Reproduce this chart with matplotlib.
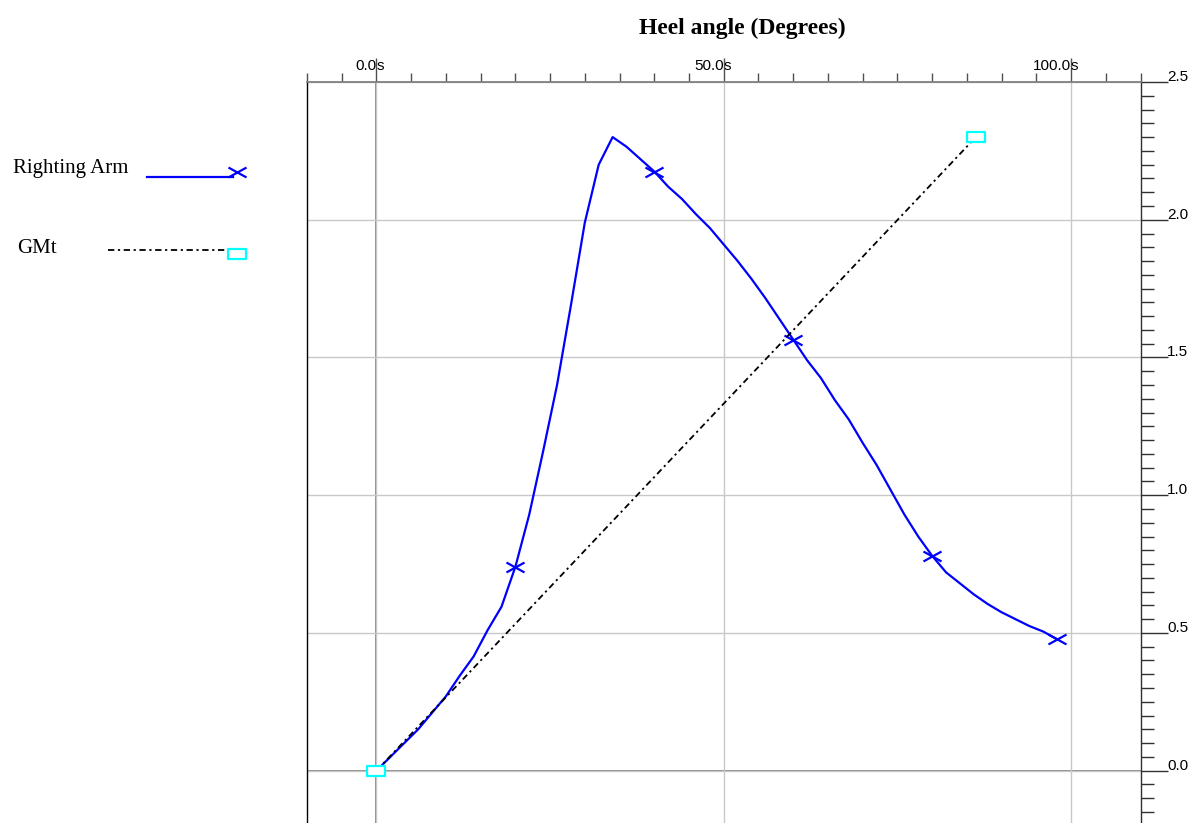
import matplotlib
matplotlib.use('Agg')
import matplotlib.pyplot as plt
from matplotlib.path import Path
import numpy as np

# ---- data ----
angles = [0, 2, 4, 6, 8, 10, 12, 14, 16, 18, 20, 22, 24, 26, 28, 30, 32, 34,
          36, 38, 40, 42, 44, 46, 48, 50, 52, 54, 56, 58, 60, 62, 64, 66, 68,
          70, 72, 74, 76, 78, 80, 82, 84, 86, 88, 90, 92, 94, 96, 98]
righting_arm = [0.0, 0.05, 0.10, 0.15, 0.21, 0.27, 0.345, 0.415, 0.51, 0.595,
                0.74, 0.93, 1.16, 1.40, 1.69, 1.99, 2.20, 2.30, 2.265, 2.22,
                2.175, 2.12, 2.075, 2.02, 1.97, 1.91, 1.85, 1.785, 1.715, 1.64,
                1.565, 1.49, 1.425, 1.345, 1.275, 1.19, 1.11, 1.02, 0.93, 0.85,
                0.78, 0.72, 0.68, 0.64, 0.605, 0.575, 0.55, 0.525, 0.505, 0.477]
marker_angles = [20, 40, 60, 80, 98]
gmt_angles = [0, 86.3]
gmt_values = [0.0, 2.30]

x_major = [0, 50, 100]
x_labels = ['0.0', '50.0', '100.0']
y_major = [0.0, 0.5, 1.0, 1.5, 2.0, 2.5]
y_labels = ['0.0', '0.5', '1.0', '1.5', '2.0', '2.5']

title = 'Heel angle (Degrees)'
series_names = ['Righting Arm', 'GMt']

SANS = ['Liberation Sans', 'Arimo', 'DejaVu Sans']
SERIF = ['Liberation Serif', 'DejaVu Serif']

# ---- markers ----
xmark = Path([(-1, -0.55), (1, 0.55), (-1, 0.55), (1, -0.55)],
             [Path.MOVETO, Path.LINETO, Path.MOVETO, Path.LINETO])
rmark = Path([(-1, -0.5), (1, -0.5), (1, 0.5), (-1, 0.5), (-1, -0.5)],
             [Path.MOVETO, Path.LINETO, Path.LINETO, Path.LINETO, Path.CLOSEPOLY])

W, H = 1193, 823
fig = plt.figure(figsize=(W / 100, H / 100), dpi=100)
ax = fig.add_axes([307 / W, 0, (1140.5 - 307) / W, (H - 82) / H])
ax.set_xlim(-10, 110)
ax.set_ylim(-0.19, 2.5)

ax.spines['bottom'].set_visible(False)
ax.spines['left'].set_color('black')
ax.spines['left'].set_linewidth(1.0)
ax.spines['top'].set_color('#808080')
ax.spines['top'].set_linewidth(1.3)
ax.spines['right'].set_color('#303030')
ax.spines['right'].set_linewidth(1.0)

ax.xaxis.tick_top()
ax.set_xticks(x_major)
ax.set_xticks(np.arange(-10, 111, 5), minor=True)
ax.tick_params(axis='x', which='both', top=True, bottom=False,
               labeltop=False, labelbottom=False, direction='out',
               color='#505050', width=1.0)
ax.tick_params(axis='x', which='major', length=17.3)
ax.tick_params(axis='x', which='minor', length=6.5)

ax.yaxis.tick_right()
ax.set_yticks(y_major)
ax.set_yticks(np.arange(-0.15, 2.5001, 0.05), minor=True)
ax.tick_params(axis='y', which='both', right=True, left=False,
               labelright=False, labelleft=False, direction='out',
               color='#303030', width=1.0)
ax.tick_params(axis='y', which='major', length=19.2)
ax.tick_params(axis='y', which='minor', length=9.4)

ax.grid(True, which='major', color='#c8c8c8', linewidth=1.0)
ax.axhline(0, color='#808080', linewidth=1.3, zorder=1.5)
ax.axvline(0, color='#808080', linewidth=1.3, zorder=1.5)

for x, lbl in zip(x_major, x_labels):
    ax.annotate(lbl, xy=(x, 1), xycoords=('data', 'axes fraction'),
                xytext=(0, 8.6), textcoords='offset points', ha='right',
                va='baseline', fontsize=11, family=SANS,
                annotation_clip=False)
    ax.annotate('s', xy=(x, 1), xycoords=('data', 'axes fraction'),
                xytext=(0, 8.6), textcoords='offset points', ha='left',
                va='baseline', fontsize=11, family=SANS,
                annotation_clip=False)

for y, lbl in zip(y_major, y_labels):
    ax.annotate(lbl, xy=(1, y), xycoords=('axes fraction', 'data'),
                xytext=(19.2, 0.8), textcoords='offset points', ha='left',
                va='baseline', fontsize=11, family=SANS,
                annotation_clip=False)

midx = [angles.index(a) for a in marker_angles]
ax.plot(angles, righting_arm, color='#0000ff', linewidth=1.6, zorder=3,
        marker=xmark, markersize=13, markevery=midx, markeredgewidth=1.6,
        markeredgecolor='#0000ff', clip_on=False)
ax.plot(gmt_angles, gmt_values, color='black', linewidth=1.3,
        linestyle=(0, (3.5, 2.0, 1.2, 2.0)), zorder=4)
ax.plot(gmt_angles, gmt_values, linestyle='none', marker=rmark, markersize=13,
        markerfacecolor='white', markeredgecolor='#00ffff',
        markeredgewidth=1.6, zorder=5, clip_on=False)

fig.text(742 / W, 1 - 28 / H, title, ha='center', va='center', fontsize=17,
         fontweight='bold', family=SERIF)

# legend drawn in pixel coordinates
lg = fig.add_axes([0, 0, 1, 1])
lg.set_xlim(0, W)
lg.set_ylim(H, 0)
lg.axis('off')
lg.patch.set_visible(False)
lg.text(13, 173, series_names[0], ha='left', va='baseline', fontsize=15,
        family=SERIF)
lg.plot([147, 233], [176.5, 176.5], color='#0000ff', linewidth=1.6)
lg.plot([236.5], [172], linestyle='none', marker=xmark, markersize=13,
        markeredgewidth=1.6, markeredgecolor='#0000ff', color='#0000ff')
lg.text(17, 253, series_names[1], ha='left', va='baseline', fontsize=15,
        family=SERIF)
lg.plot([108, 228], [249.5, 249.5], color='black', linewidth=1.3,
        linestyle=(0, (3.5, 2.0, 1.2, 2.0)))
lg.plot([237], [253.7], linestyle='none', marker=rmark, markersize=13,
        markerfacecolor='white', markeredgecolor='#00ffff',
        markeredgewidth=1.6)

fig.savefig('out.png', dpi=100)
